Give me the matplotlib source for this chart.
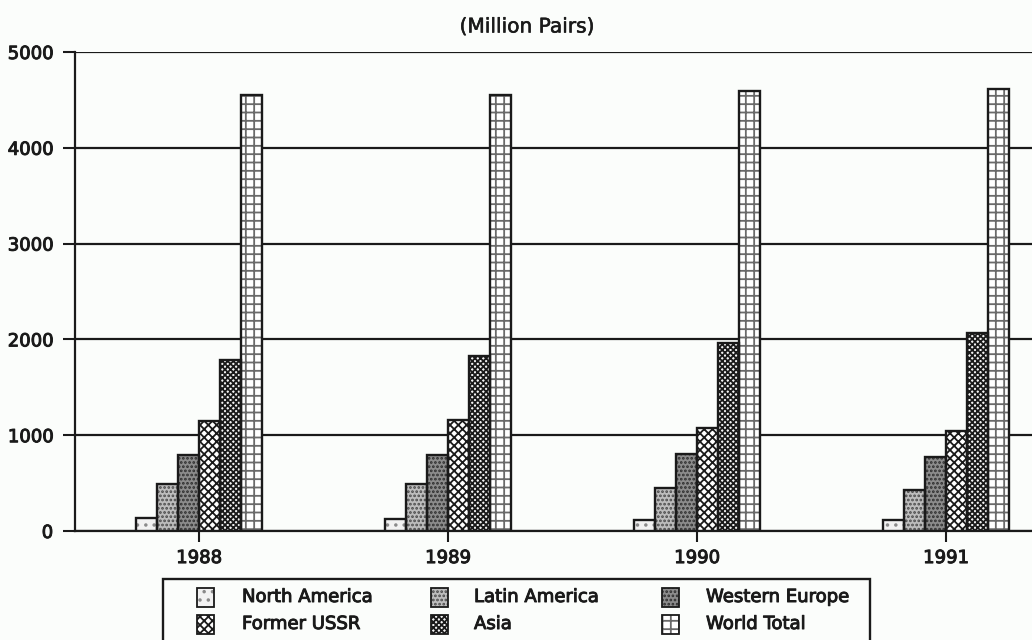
import numpy as np
import matplotlib
matplotlib.use("Agg")
import matplotlib.pyplot as plt
from matplotlib.patches import Rectangle
import matplotlib.patheffects as pe

years = ["1988", "1989", "1990", "1991"]
series_names = ["North America", "Latin America", "Western Europe",
                "Former USSR", "Asia", "World Total"]
north_america = [140, 130, 115, 110]
latin_america = [486, 492, 450, 430]
western_europe = [793, 793, 800, 770]
former_ussr = [1146, 1162, 1070, 1040]
asia = [1780, 1826, 1960, 2070]
world_total = [4550, 4550, 4590, 4610]
yticks = [0, 1000, 2000, 3000, 4000, 5000]

values = [north_america, latin_america, western_europe, former_ussr, asia, world_total]
faces = ["#f2f2f2", "#bdbdbd", "#8c8c8c", "#ffffff", "#f4f4f4", "#ffffff"]
hatch_cols = ["#8a8a8a", "#4a4a4a", "#2e2e2e", "#1a1a1a", "#1a1a1a", "#6a6a6a"]
hatches = ["..", "....", "....", "xxxx", "xxxxxx", "++"]

plt.rcParams["font.family"] = ["DejaVu Sans"]
plt.rcParams["hatch.linewidth"] = 1.3
bg = "#fbfdfb"
ink = "#1a1a1a"
thick = [pe.withStroke(linewidth=0.7, foreground=ink)]

fig = plt.figure(figsize=(10.32, 6.40), dpi=100, facecolor=bg)
ax = fig.add_axes([74.5 / 1032, 109 / 640, 996 / 1032, 479 / 640], facecolor=bg)

x = np.arange(len(years))
w = 0.0843
for i, (vals, fc, hc, h) in enumerate(zip(values, faces, hatch_cols, hatches)):
    pos = x + (i - 2.5) * w
    ax.bar(pos, vals, width=w, color=fc, hatch=h, edgecolor=hc,
           linewidth=0, zorder=3)
    ax.bar(pos, vals, width=w, fill=False, edgecolor=ink, linewidth=1.7, zorder=4)

ax.set_xlim(-0.5, 3.5)
ax.set_ylim(0, 5000)
ax.set_yticks(yticks)
ax.set_yticklabels([str(t) for t in yticks], fontsize=13, color=ink)
ax.set_xticks(x)
ax.set_xticklabels(years, fontsize=13, color=ink)
for lab in ax.get_xticklabels() + ax.get_yticklabels():
    lab.set_path_effects(thick)
ax.tick_params(axis="y", length=8.5, width=1.5, color=ink, pad=7)
ax.tick_params(axis="x", length=8, width=1.5, color=ink, pad=5)
ax.grid(axis="y", color=ink, linewidth=1.6, zorder=1)
for s in ["top", "right"]:
    ax.spines[s].set_visible(False)
for s in ["left", "bottom"]:
    ax.spines[s].set_linewidth(1.6)
    ax.spines[s].set_color(ink)

t = fig.text(527 / 1032, 1 - 27 / 640, "(Million Pairs)", ha="center", va="center",
             fontsize=14.5, color=ink)
t.set_path_effects([pe.withStroke(linewidth=0.4, foreground=ink)])

# legend drawn in figure pixel coordinates
H = 640.0
W = 1032.0
def fx(px):
    return px / W
def fy(py):
    return 1 - py / H

frame = Rectangle((fx(163), fy(660)), fx(870) - fx(163), fy(579) - fy(660),
                  transform=fig.transFigure, facecolor="none", edgecolor=ink,
                  linewidth=1.7, clip_on=False)
fig.patches.append(frame)

col_handle_x = [197, 431, 662]
col_text_x = [242, 474, 706]
row_y = [597, 624]
for idx in range(6):
    r, c = divmod(idx, 3)
    hx = col_handle_x[c]
    cy = row_y[r]
    size_w, size_h = 17, 19
    base = Rectangle((fx(hx), fy(cy + size_h / 2)), size_w / W, size_h / H,
                     transform=fig.transFigure, facecolor=faces[idx],
                     hatch=hatches[idx], edgecolor=hatch_cols[idx], linewidth=0)
    outline = Rectangle((fx(hx), fy(cy + size_h / 2)), size_w / W, size_h / H,
                        transform=fig.transFigure, facecolor="none",
                        edgecolor=ink, linewidth=1.3)
    fig.patches.append(base)
    fig.patches.append(outline)
    tt = fig.text(fx(col_text_x[c]), fy(cy), series_names[idx], ha="left",
                  va="center", fontsize=13, color=ink)
    tt.set_path_effects(thick)

fig.savefig("out.png", dpi=100, facecolor=bg)
